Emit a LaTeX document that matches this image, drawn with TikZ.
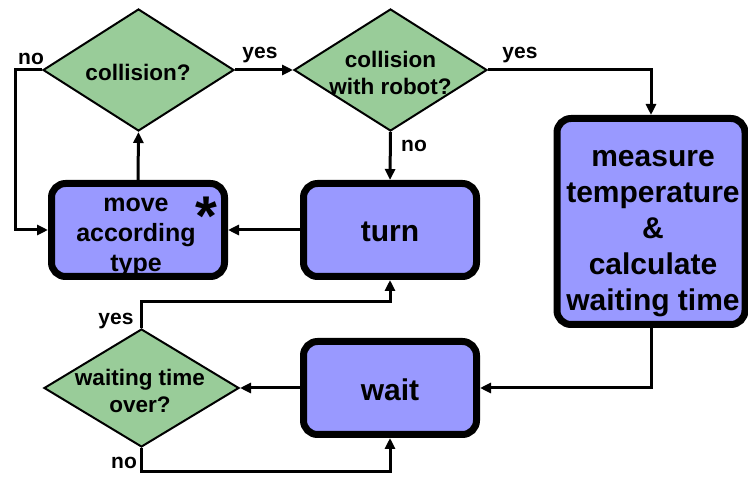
\documentclass[tikz,border=0pt]{standalone}
\usepackage{fontspec}
\setmainfont{Liberation Sans}
\usetikzlibrary{shapes.geometric,arrows.meta}
\definecolor{boxblue}{RGB}{153,153,255}
\definecolor{diagreen}{RGB}{153,204,153}
\tikzset{
  box/.style={draw, line width=7pt, rounded corners=14pt, fill=boxblue, inner sep=0pt,
    align=center, font=\bfseries\fontsize{30}{36}\selectfont},
  btext/.style={align=center, inner sep=0pt, font=\bfseries\fontsize{30}{36}\selectfont},
  dia/.style={draw, line width=2pt, shape=diamond, fill=diagreen, inner sep=0pt},
  dtext/.style={align=center, inner sep=0pt, font=\bfseries\fontsize{22.5}{27}\selectfont},
  lbl/.style={inner sep=0pt, anchor=base, font=\bfseries\fontsize{21}{25}\selectfont},
  conn/.style={line width=3pt, -{Triangle[length=11pt,width=10pt]}},
}
\begin{document}
\begin{tikzpicture}[x=1pt,y=-1pt]
\useasboundingbox (0,0) rectangle (748,478);
% diamonds
\node[dia, minimum width=191pt, minimum height=122pt] (d1) at (138.5,70) {};
\node[dtext] (d1t) at (138,72) {collision?};
\node[dia, minimum width=193pt, minimum height=122pt] (d2) at (390.5,70) {};
\node[dtext] (d2t) at (390.5,73) {collision\\with robot?};
\node[dia, minimum width=195pt, minimum height=118pt] (d3) at (141.5,388) {};
\node[dtext] (d3t) at (140,390.5) {waiting time\\over?};
% boxes
\node[box, minimum width=173pt, minimum height=93pt] (move) at (138,230) {};
\node[btext, font=\bfseries\fontsize{25}{30}\selectfont] (movet) at (136,237) {move\\according\\type};
\node[inner sep=0pt, anchor=base, font=\bfseries\fontsize{56}{56}\selectfont] (star) at (206,236) {*};
\node[box, minimum width=173pt, minimum height=93pt] (turn) at (390,230) {};
\node[btext] (turnt) at (390,232) {turn};
\node[box, minimum width=173pt, minimum height=93pt] (wait) at (390,388) {};
\node[btext] (waitt) at (390,390) {wait};
\node[box, minimum width=188pt, minimum height=206pt] (meas) at (651,221.5) {};
\node[btext] (meast) at (653,233.5) {measure\\temperature\\\&\\calculate\\waiting time};
% helper coordinates
\coordinate (cL) at (15,70);
\coordinate (yU) at (141.5,302);
\coordinate (nD) at (141.5,472);
% connectors
\draw[conn] (d1.east) -- (d2.west);
\draw[conn] (d1.west) -- (cL) |- (move.west);
\draw[conn] (d2.east) -| (meas.north);
\draw[conn] (d2.south) -- (turn.north);
\draw[conn] (turn.west) -- (move.east);
\draw[conn] (move.north) -- (d1.south);
\draw[conn] (meas.south) |- (wait.east);
\draw[conn] (wait.west) -- (d3.east);
\draw[conn] (d3.north) -- (yU) -| (turn.south);
\draw[conn] (d3.south) -- (nD) -| (wait.south);
% labels
\node[lbl] (l1) at (31,65) {no};
\node[lbl] (l2) at (260,59) {yes};
\node[lbl] (l3) at (520,59) {yes};
\node[lbl] (l4) at (414,152) {no};
\node[lbl] (l5) at (116,325) {yes};
\node[lbl] (l6) at (124,469) {no};
\end{tikzpicture}
\end{document}
